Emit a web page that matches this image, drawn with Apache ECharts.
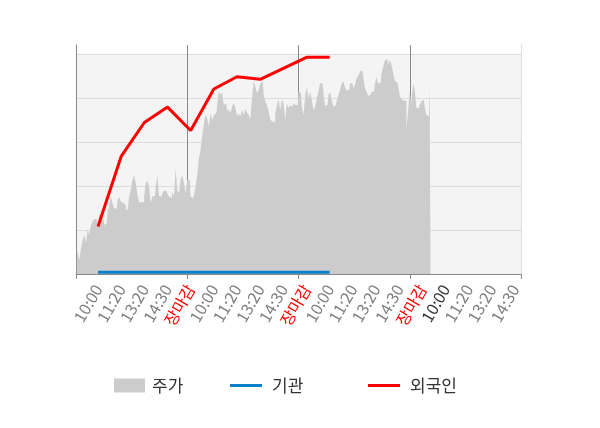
<!DOCTYPE html>
<html>
<head>
<meta charset="utf-8">
<script src="https://cdn.jsdelivr.net/npm/echarts@6/dist/echarts.min.js"></script>
<style>
html,body{margin:0;padding:0;background:#fff;}
#chart{width:600px;height:428px;}
</style>
</head>
<body>
<div id="chart"></div>
<script>
// Price (주가) per day, in gridline units, one value per time bin
const POINTS_PER_DAY = 67;
const priceDay1 = [0.56,0.47,0.32,0.58,0.77,0.89,0.71,1.00,0.89,1.11,1.19,1.25,1.25,1.08,1.36,1.30,1.27,1.11,1.15,1.38,
  1.57,1.76,1.61,1.49,1.49,1.68,1.74,1.64,1.61,1.57,1.49,1.44,1.76,1.91,2.14,2.25,2.06,1.80,1.63,1.63,
  1.63,1.76,2.06,2.12,1.98,1.61,1.76,1.77,1.98,2.25,1.77,1.76,1.83,1.89,1.89,1.83,1.76,1.72,1.87,1.76,
  2.39,1.91,1.83,2.14,2.25,2.06,1.83];
const priceDay2 = [2.14,2.14,1.76,1.72,1.80,1.98,2.25,2.63,2.82,3.12,3.42,3.61,3.54,3.35,3.65,3.50,3.61,3.65,3.84,4.14,
  4.07,4.12,3.84,3.88,3.69,3.74,3.65,3.80,3.89,3.77,3.58,3.64,3.58,3.73,3.61,3.74,3.67,3.61,3.52,3.99,
  4.37,4.26,4.11,4.18,4.33,4.37,4.07,3.92,3.84,3.69,3.50,3.46,3.46,3.65,3.84,3.97,3.73,3.97,3.88,3.50,
  3.88,3.77,3.84,3.80,3.89,3.84,3.84];
const priceDay3 = [4.14,4.11,3.80,3.61,4.03,4.26,3.99,4.14,3.95,3.73,3.80,3.99,4.14,4.33,4.33,4.11,3.82,3.84,4.07,4.12,
  3.95,3.80,3.84,3.92,4.07,4.18,4.32,4.37,4.24,4.17,4.18,4.33,4.33,4.22,4.30,4.45,4.50,4.60,4.62,4.48,
  4.22,4.14,4.05,4.07,4.14,4.14,4.33,4.47,4.32,4.35,4.56,4.70,4.85,4.88,4.75,4.86,4.75,4.56,4.39,4.35,
  4.26,4.05,3.97,3.94,3.92,3.30,3.71];
const priceDay4 = [4.14,3.88,4.33,4.18,3.77,3.77,3.84,3.92,3.95,3.80,3.61,3.58,4.22];
const priceDays = [priceDay1, priceDay2, priceDay3, priceDay4];

// Time labels of the lower axis
const timeLabels = ['10:00','11:20','13:20','14:30','장마감',
  '10:00','11:20','13:20','14:30','장마감',
  '10:00','11:20','13:20','14:30','장마감',
  '10:00','11:20','13:20','14:30'];

// Investor lines (same gridline units)
const foreignVals = [1.08,2.67,3.44,3.79,3.26,4.20,4.48,4.42,4.67,4.92,4.92];
const institutionVals = [0.04,0.04,0.04,0.04,0.04,0.04,0.04,0.04,0.04,0.04,0.04];

const priceData = [];
priceDays.forEach(function(day, d){
  day.forEach(function(v, i){ priceData.push([d * POINTS_PER_DAY + i + 0.5, v]); });
});

const FONT = '"Noto Sans CJK KR", "Noto Sans", sans-serif';
const chart = echarts.init(document.getElementById('chart'), null, {renderer:'canvas'});
const yMax = 5.2;

chart.setOption({
  animation: false,
  textStyle: {fontFamily: FONT},
  grid: [
    {left: 76, right: 79, top: 45, bottom: 154},
    {left: 98, right: 85, top: 45, bottom: 154}
  ],
  xAxis: [
    {
      type: 'value', gridIndex: 0, min: 0, max: 4 * POINTS_PER_DAY, interval: POINTS_PER_DAY,
      axisLine: {show: true, lineStyle: {color: '#888888', width: 1}},
      axisTick: {show: true, length: 5, lineStyle: {color: '#888888'}},
      axisLabel: {show: false},
      splitLine: {show: true, showMinLine: false, showMaxLine: false, lineStyle: {color: '#888888', width: 1}}
    },
    {
      type: 'category', gridIndex: 1, data: timeLabels, boundaryGap: false,
      axisLine: {show: false}, axisTick: {show: false}, splitLine: {show: false},
      axisLabel: {
        interval: 0, rotate: 60, margin: 12, fontSize: 16, fontFamily: FONT,
        color: function(value, index){
          if (value === '장마감') return '#ff0000';
          if (index === 15) return '#333333';
          return '#808080';
        }
      }
    }
  ],
  yAxis: [
    {
      type: 'value', gridIndex: 0, min: 0, max: yMax, interval: 1,
      axisLine: {show: true, lineStyle: {color: '#888888'}},
      axisTick: {show: false}, axisLabel: {show: false},
      splitLine: {show: true, showMinLine: false, showMaxLine: false, lineStyle: {color: '#dddddd'}},
      splitArea: {show: true, areaStyle: {color: ['#f4f4f4','#f4f4f4','#f4f4f4','#f4f4f4','#f4f4f4','#ffffff']}}
    },
    {
      type: 'value', gridIndex: 0, position: 'right', min: 0, max: yMax,
      axisLine: {show: true, lineStyle: {color: '#dddddd'}},
      axisTick: {show: false}, axisLabel: {show: false}, splitLine: {show: false}
    },
    {
      type: 'value', gridIndex: 1, min: 0, max: yMax, show: false
    }
  ],
  legend: [
    {data: ['주가'], left: 114, top: 377, padding: 0, icon: 'rect', itemWidth: 31, itemHeight: 14,
      textStyle: {fontSize: 17, color: '#333333', fontFamily: FONT, padding: [0,0,0,2]}},
    {data: ['기관'], left: 230, top: 377, padding: 0, icon: 'rect', itemWidth: 32, itemHeight: 3,
      textStyle: {fontSize: 17, color: '#333333', fontFamily: FONT, padding: [0,0,0,5]}},
    {data: ['외국인'], left: 368, top: 377, padding: 0, icon: 'rect', itemWidth: 32, itemHeight: 3,
      textStyle: {fontSize: 17, color: '#333333', fontFamily: FONT, padding: [0,0,0,5]}}
  ],
  series: [
    {
      name: '주가', type: 'line', xAxisIndex: 0, yAxisIndex: 0, data: priceData,
      step: 'middle', showSymbol: false, symbol: 'none',
      color: '#cccccc', lineStyle: {width: 0}, areaStyle: {color: '#cccccc', opacity: 1},
      silent: true, z: 1
    },
    {
      name: '기관', type: 'line', xAxisIndex: 1, yAxisIndex: 2, data: institutionVals,
      showSymbol: false, symbol: 'none', color: '#0a7fcc', lineStyle: {width: 3, color: '#0a7fcc'},
      silent: true, z: 3
    },
    {
      name: '외국인', type: 'line', xAxisIndex: 1, yAxisIndex: 2, data: foreignVals,
      showSymbol: false, symbol: 'none', color: '#ff0000', lineStyle: {width: 3, color: '#ff0000'},
      silent: true, z: 4
    }
  ]
});
</script>
</body>
</html>
